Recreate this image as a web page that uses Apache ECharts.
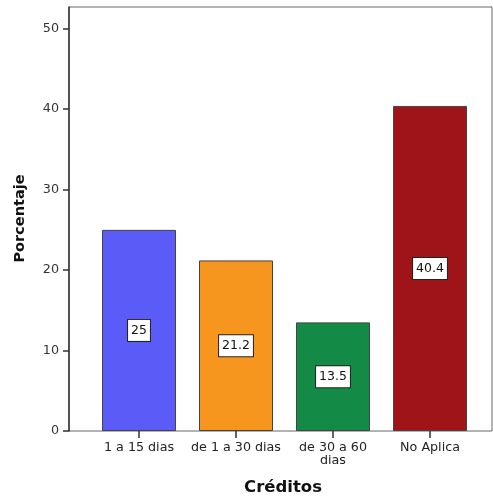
<!DOCTYPE html>
<html>
<head>
<meta charset="utf-8">
<script src="https://cdn.jsdelivr.net/npm/echarts@6/dist/echarts.min.js"></script>
<style>
  html, body { margin: 0; padding: 0; background: #fff; }
  #chart { width: 493px; height: 498px; }
</style>
</head>
<body>
<div id="chart"></div>
<script>
// Credit-term categories and their share (%)
const categories = ['1 a 15 dias', 'de 1 a 30 dias', 'de 30 a 60\ndias', 'No Aplica'];
const percentages = [25, 21.2, 13.5, 40.4];
const barColors = ['#5b5bf7', '#f7961f', '#138b47', '#9e1418'];
const yTicks = [0, 10, 20, 30, 40, 50];

const chart = echarts.init(document.getElementById('chart'), null, { renderer: 'canvas' });

const plotTop = 7, plotBottom = 67;
const yMax = 52.7;
const baseFont = '"DejaVu Sans", Verdana, sans-serif';

chart.setOption({
  animation: false,
  backgroundColor: '#ffffff',
  grid: [
    // bar area: category bands laid out inside the frame
    { left: 90.5, right: 14.5, top: plotTop, bottom: plotBottom, show: false },
    // frame with the value axis
    { left: 69, right: 1, top: plotTop, bottom: plotBottom, show: true,
      borderColor: '#666', borderWidth: 1, backgroundColor: 'transparent' }
  ],
  xAxis: [
    {
      type: 'category', gridIndex: 0, data: categories,
      axisLine: { show: false },
      axisTick: { show: true, alignWithLabel: true, length: 7, lineStyle: { color: '#333', width: 1.5 } },
      axisLabel: { interval: 0, margin: 10, color: '#222', fontFamily: baseFont, fontSize: 12.7, lineHeight: 13 }
    },
    { type: 'value', gridIndex: 1, min: 0, max: 1, show: false }
  ],
  yAxis: [
    { type: 'value', gridIndex: 0, min: 0, max: yMax, show: false },
    {
      type: 'value', gridIndex: 1, min: 0, max: yMax, interval: 10,
      splitLine: { show: false },
      axisLine: { show: true, lineStyle: { color: '#333', width: 1.5 } },
      axisTick: { show: true, length: 6, customValues: yTicks, lineStyle: { color: '#333', width: 1.5 } },
      axisLabel: { margin: 10, customValues: yTicks, color: '#333', fontFamily: baseFont, fontSize: 12.7 }
    }
  ],
  series: [{
    type: 'bar', xAxisIndex: 0, yAxisIndex: 0,
    barWidth: 74,
    data: percentages.map((v, i) => ({
      value: v,
      itemStyle: { color: barColors[i], borderColor: '#444', borderWidth: 1 }
    })),
    label: {
      show: true, position: 'inside',
      color: '#111', fontFamily: baseFont, fontSize: 12.5, lineHeight: 15,
      backgroundColor: '#fff', borderColor: '#222', borderWidth: 1,
      padding: [3, 3, 3, 3]
    }
  }],
  graphic: [
    { type: 'text', x: 283, y: 488,
      style: { text: 'Créditos', font: 'bold 16.5px ' + baseFont, fill: '#111',
               align: 'center', verticalAlign: 'middle' } },
    { type: 'text', x: 20, y: 218.5, rotation: Math.PI / 2,
      style: { text: 'Porcentaje', font: 'bold 14.5px ' + baseFont, fill: '#111',
               align: 'center', verticalAlign: 'middle' } }
  ]
});
</script>
</body>
</html>
